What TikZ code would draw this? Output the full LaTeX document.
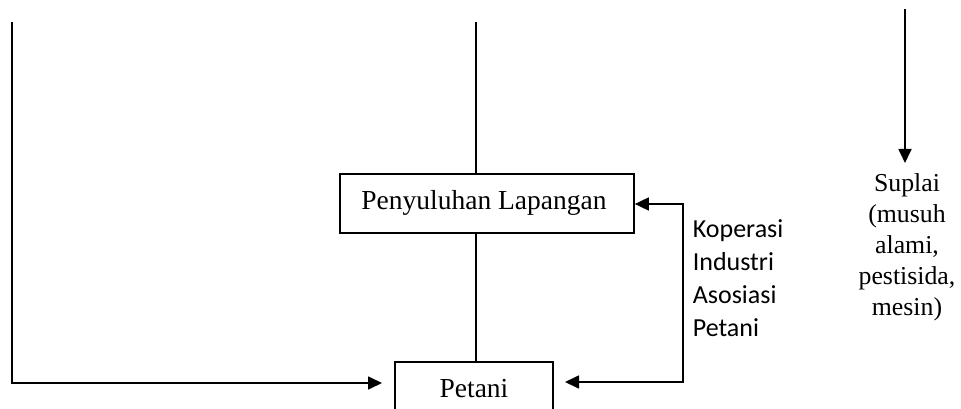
\documentclass[tikz,border=0pt]{standalone}
\usepackage{fontspec}
\setmainfont{Liberation Serif}
\newfontfamily\sansfam{Carlito}
\usetikzlibrary{arrows.meta}
\begin{document}
\begin{tikzpicture}[x=1pt,y=-1pt,
  line width=1.7pt,
  box/.style={draw, inner sep=0pt, text height=18.8pt, text depth=6pt,
    font=\fontsize{27.5}{33}\selectfont},
  tip/.style={-{Triangle[length=14pt,width=13pt]}},
  biarrow/.style={{Triangle[length=14pt,width=13pt]}-{Triangle[length=14pt,width=13pt]}},
  sidetext/.style={inner sep=0pt, align=left, anchor=base west,
    font=\sansfam\fontsize{26}{33}\selectfont},
  supptext/.style={inner sep=0pt, align=center, anchor=base,
    font=\fontsize{25.8}{31}\selectfont}]
\useasboundingbox (0,0) rectangle (961,409);
\clip (0,0) rectangle (961,409);

% boxes
\node[box, minimum width=294pt, minimum height=59pt] (pen) at (487,203.5) {Penyuluhan Lapangan\hspace*{6pt}};
\node[box, minimum width=158pt, minimum height=59pt] (pet) at (474,391.5) {Petani};

% free ends of the connectors
\coordinate (topleft) at (12,22);
\coordinate (topmid) at (476,22);
\coordinate (leftin) at (382,383);
\coordinate (fbx) at (683,204);
\coordinate (rightin) at (565,382);
\coordinate (suptop) at (905,9);
\coordinate (suptip) at (905,163);

% connectors
\draw (topmid) -- (topmid |- pen.north);
\draw (topmid |- pen.south) -- (topmid |- pet.north);
\draw[tip] (topleft) |- (leftin);
\draw[biarrow] (pen.east |- fbx) -- (fbx) |- (rightin);
\draw[tip] (suptop) -- (suptip);

% labels (base anchor sits on the last line)
\node[sidetext] (side) at (692,336.5) {Koperasi\\Industri\\Asosiasi\\Petani};
\node[supptext] (supp) at (907,315) {Suplai\\(musuh\\alami,\\pestisida,\\mesin)};
\end{tikzpicture}
\end{document}
